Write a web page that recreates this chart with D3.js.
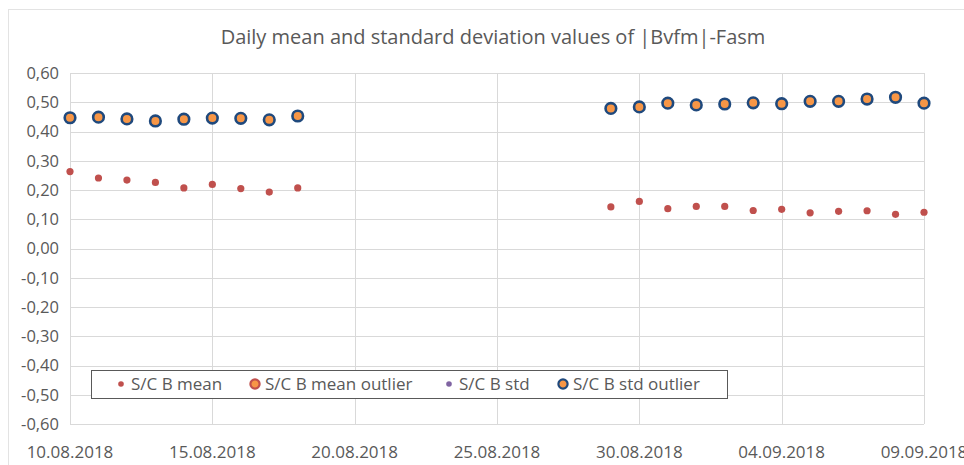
<!DOCTYPE html>
<meta charset="utf-8">
<head>
<style>
body { margin: 0; background: #fff; }
text { font-family: "Open Sans", "Noto Sans", sans-serif; fill: #595959; }
.grid line { stroke: #d9d9d9; stroke-width: 1; }
</style>
</head>
<body>
<svg width="964" height="465"></svg>
<script src="https://d3js.org/d3.v7.min.js"></script>
<script>

// data
var leftDates = ["10.08.2018","11.08.2018","12.08.2018","13.08.2018","14.08.2018","15.08.2018","16.08.2018","17.08.2018","18.08.2018"];
var rightDates = ["29.08.2018","30.08.2018","31.08.2018","01.09.2018","02.09.2018","03.09.2018","04.09.2018","05.09.2018","06.09.2018","07.09.2018","08.09.2018","09.09.2018"];
var meanValues = [0.263,0.241,0.234,0.226,0.207,0.219,0.205,0.193,0.207,
                  0.142,0.161,0.136,0.144,0.144,0.130,0.134,0.122,0.127,0.129,0.117,0.124];
var stdOutlierValues = [0.447,0.449,0.443,0.436,0.442,0.446,0.445,0.440,0.453,
                        0.479,0.484,0.497,0.491,0.494,0.498,0.495,0.503,0.503,0.511,0.517,0.497];
var meanOutlierValues = [];
var stdValues = [];
var xTickLabels = ["10.08.2018","15.08.2018","20.08.2018","25.08.2018","30.08.2018","04.09.2018","09.09.2018"];
var yTicks = [0.6,0.5,0.4,0.3,0.2,0.1,0,-0.1,-0.2,-0.3,-0.4,-0.5,-0.6];
var legendLabels = ["S/C B mean","S/C B mean outlier","S/C B std","S/C B std outlier"];

var parse = d3.timeParse("%d.%m.%Y");
var dates = leftDates.concat(rightDates).map(parse);

var svg = d3.select("svg");

// chart frame
svg.append("rect")
    .attr("x", 8.5).attr("y", 9.5)
    .attr("width", 980).attr("height", 470)
    .attr("fill", "none").attr("stroke", "#e3e3e3");

var x = d3.scaleTime()
    .domain([parse("10.08.2018"), parse("09.09.2018")])
    .range([70, 924]);
var y = d3.scaleLinear().domain([-0.6, 0.6]).range([424, 73]);

var fmt = function(v) { return d3.format(".2f")(v).replace(".", ",").replace("−", "-"); };

// gridlines
var grid = svg.append("g").attr("class", "grid");
grid.selectAll(".h").data(yTicks).enter().append("line")
    .attr("x1", 70).attr("x2", 924)
    .attr("y1", function(d) { return Math.round(y(d)) + 0.5; })
    .attr("y2", function(d) { return Math.round(y(d)) + 0.5; });
grid.selectAll(".v").data(xTickLabels).enter().append("line")
    .attr("x1", function(d) { return Math.round(x(parse(d))) + 0.5; })
    .attr("x2", function(d) { return Math.round(x(parse(d))) + 0.5; })
    .attr("y1", 73).attr("y2", 424);

// axis labels
svg.append("g").selectAll("text").data(yTicks).enter().append("text")
    .attr("x", 59)
    .attr("y", function(d) { return y(d); })
    .attr("dy", "0.35em")
    .attr("text-anchor", "end")
    .style("font-size", "16.5px")
    .text(fmt);

svg.append("g").selectAll("text").data(xTickLabels).enter().append("text")
    .attr("x", function(d) { return x(parse(d)); })
    .attr("y", 452)
    .attr("dy", "0.35em")
    .attr("text-anchor", "middle")
    .style("font-size", "17px")
    .text(function(d) { return d; });

// title
svg.append("text")
    .attr("x", 493).attr("y", 37)
    .attr("dy", "0.35em")
    .attr("text-anchor", "middle")
    .style("font-size", "20px")
    .text("Daily mean and standard deviation values of |Bvfm|-Fasm");

// series
svg.append("g").selectAll("circle").data(meanValues).enter().append("circle")
    .attr("cx", function(d, i) { return x(dates[i]); })
    .attr("cy", function(d) { return y(d); })
    .attr("r", 3.6)
    .attr("fill", "#c0504d");

svg.append("g").selectAll("circle").data(stdOutlierValues).enter().append("circle")
    .attr("cx", function(d, i) { return x(dates[i]); })
    .attr("cy", function(d) { return y(d); })
    .attr("r", 5.3)
    .attr("fill", "#f79646")
    .attr("stroke", "#1f497d")
    .attr("stroke-width", 2.6);

// legend
var legend = svg.append("g");
legend.append("rect")
    .attr("x", 91.5).attr("y", 370.5)
    .attr("width", 636).attr("height", 28)
    .attr("fill", "#fff").attr("stroke", "#595959").attr("stroke-width", 1);

var legendX = [121, 255, 449, 563];
var markerStyle = [
  {r: 2.8, fill: "#c0504d", stroke: "none", sw: 0},
  {r: 4.6, fill: "#f79646", stroke: "#c0504d", sw: 2.2},
  {r: 2.8, fill: "#8064a2", stroke: "none", sw: 0},
  {r: 4.6, fill: "#f79646", stroke: "#1f497d", sw: 2.2}
];
var item = legend.selectAll(".item").data(legendLabels).enter().append("g")
    .attr("transform", function(d, i) { return "translate(" + legendX[i] + ",384)"; });
item.append("circle")
    .attr("r", function(d, i) { return markerStyle[i].r; })
    .attr("fill", function(d, i) { return markerStyle[i].fill; })
    .attr("stroke", function(d, i) { return markerStyle[i].stroke; })
    .attr("stroke-width", function(d, i) { return markerStyle[i].sw; });
item.append("text")
    .attr("x", 10)
    .attr("dy", "0.35em")
    .style("font-size", "17px")
    .text(function(d) { return d; });

</script>
</body>
</html>
